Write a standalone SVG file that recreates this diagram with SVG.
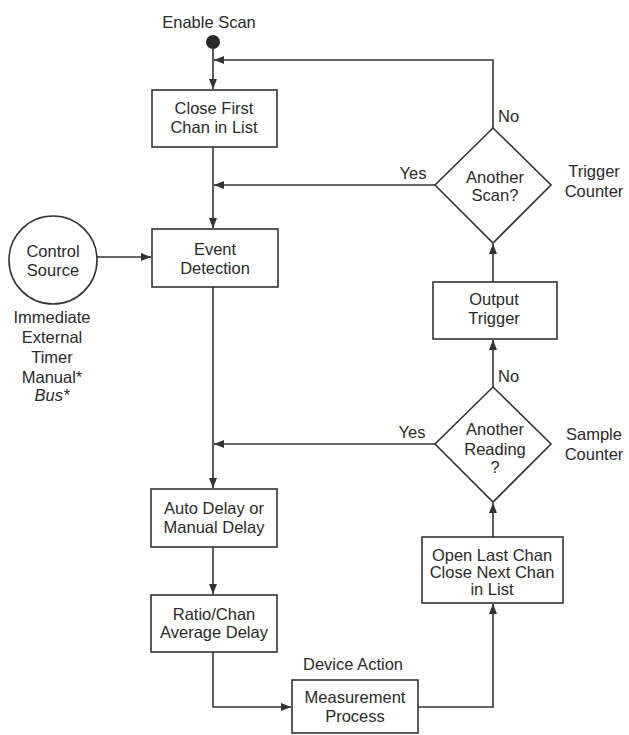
<svg xmlns="http://www.w3.org/2000/svg" width="629" height="735" viewBox="0 0 629 735">
<style>
.box{fill:#fff;stroke:#333;stroke-width:1.6}
.ln{fill:none;stroke:#333;stroke-width:1.6}
.ar{marker-end:url(#ah)}
text{font-family:"Liberation Sans",Arial,sans-serif;font-size:16.5px;fill:#2a2a2a;text-anchor:middle}
.st{text-anchor:start}
</style>
<defs>
<marker id="ah" markerUnits="userSpaceOnUse" markerWidth="12" markerHeight="10" refX="10" refY="4" orient="auto">
<path d="M0,0 L10,4 L0,8 Z" fill="#333"/>
</marker>
</defs>
<rect width="629" height="735" fill="#fff"/>
<g id="connectors">
<line class="ln ar" x1="213" y1="49" x2="213" y2="89"/>
<polyline class="ln ar" points="493,128 493,60 214,60"/>
<line class="ln ar" x1="213" y1="147" x2="213" y2="228"/>
<line class="ln ar" x1="435" y1="185" x2="214" y2="185"/>
<line class="ln ar" x1="96" y1="257" x2="151" y2="257"/>
<line class="ln ar" x1="213" y1="287" x2="213" y2="488"/>
<line class="ln ar" x1="435" y1="444" x2="214" y2="444"/>
<line class="ln ar" x1="213" y1="547" x2="213" y2="594"/>
<polyline class="ln ar" points="213,652 213,707 291,707"/>
<polyline class="ln ar" points="418,707 493,707 493,604"/>
<line class="ln ar" x1="493" y1="537" x2="493" y2="503"/>
<line class="ln ar" x1="493" y1="387" x2="493" y2="340"/>
<line class="ln ar" x1="493" y1="282" x2="493" y2="244"/>
</g>
<g id="start">
<text x="209" y="28">Enable Scan</text>
<circle cx="213" cy="42" r="7" fill="#2a2a2a"/>
</g>
<g id="close-first">
<rect class="box" x="152" y="90" width="125" height="57"/>
<text x="214" y="114">Close First</text>
<text x="214" y="133">Chan in List</text>
</g>
<g id="event-detection">
<rect class="box" x="152" y="229" width="126" height="58"/>
<text x="215" y="255">Event</text>
<text x="215" y="274">Detection</text>
</g>
<g id="control-source">
<circle class="box" cx="53" cy="260" r="44"/>
<text x="53" y="257">Control</text>
<text x="53" y="276">Source</text>
<text x="52" y="323">Immediate</text>
<text x="52" y="343">External</text>
<text x="52" y="363">Timer</text>
<text x="52" y="383">Manual*</text>
<text x="52" y="401" font-style="italic">Bus*</text>
</g>
<g id="auto-delay">
<rect class="box" x="151" y="489" width="126" height="58"/>
<text x="214" y="514">Auto Delay or</text>
<text x="214" y="533">Manual Delay</text>
</g>
<g id="ratio-delay">
<rect class="box" x="151" y="595" width="126" height="57"/>
<text x="214" y="620">Ratio/Chan</text>
<text x="214" y="638">Average Delay</text>
</g>
<g id="measurement">
<text x="353" y="670">Device Action</text>
<rect class="box" x="292" y="680" width="126" height="53"/>
<text x="355" y="703">Measurement</text>
<text x="355" y="722">Process</text>
</g>
<g id="open-last">
<rect class="box" x="422" y="537" width="141" height="66"/>
<text x="492" y="561">Open Last Chan</text>
<text x="492" y="578">Close Next Chan</text>
<text x="492" y="595">in List</text>
</g>
<g id="another-reading">
<polygon class="box" points="493,387 551,444 493,502 435,444"/>
<text x="495" y="435">Another</text>
<text x="495" y="455">Reading</text>
<text x="495" y="473">?</text>
<text class="st" x="498" y="382">No</text>
<text x="412" y="438">Yes</text>
<text x="594" y="440">Sample</text>
<text x="594" y="460">Counter</text>
</g>
<g id="output-trigger">
<rect class="box" x="433" y="282" width="124" height="57"/>
<text x="494" y="305">Output</text>
<text x="494" y="324">Trigger</text>
</g>
<g id="another-scan">
<polygon class="box" points="493,128 551,185 493,243 435,185"/>
<text x="495" y="183">Another</text>
<text x="495" y="201">Scan?</text>
<text class="st" x="498" y="122">No</text>
<text x="413" y="179">Yes</text>
<text x="594" y="177">Trigger</text>
<text x="594" y="197">Counter</text>
</g>
</svg>
